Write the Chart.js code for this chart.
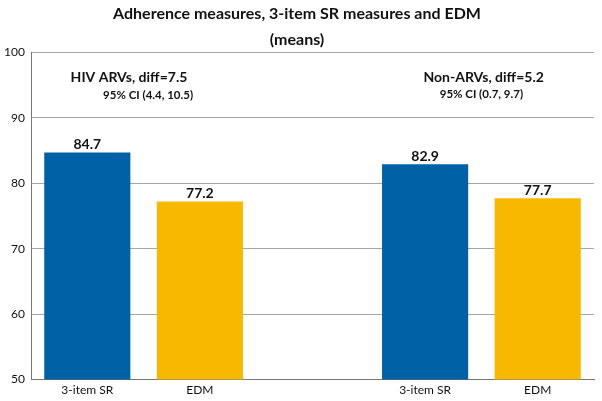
<!DOCTYPE html>
<html>
<head>
<meta charset="utf-8">
<script src="https://cdn.jsdelivr.net/npm/chart.js@4/dist/chart.umd.min.js"></script>
<style>
  html, body { margin: 0; padding: 0; background: #fff; }
  #wrap { width: 602px; height: 401px; }
</style>
</head>
<body>
<div id="wrap"><canvas id="adhChart"></canvas></div>
<script>
// bar categories (empty slot in the middle separates the two groups)
const categories = ['3-item SR', 'EDM', '', '3-item SR', 'EDM'];
const meanValues = [84.7, 77.2, null, 82.9, 77.7];
const barColors = ['#0061A7', '#F9B800', '#ffffff', '#0061A7', '#F9B800'];
const yTicks = [50, 60, 70, 80, 90, 100];

// group notes: [category position, value position, text, bold?, size]
const groupNotes = [
    [0.37, 96.2, 'HIV ARVs, diff=7.5', true, 14],
    [0.54, 93.4, '95% CI (4.4, 10.5)', true, 11.5],
    [3.52, 96.1, 'Non-ARVs, diff=5.2', true, 14],
    [3.5, 93.5, '95% CI (0.7, 9.7)', true, 11.5]
];

const FONT = 'Lato, "Open Sans", sans-serif';

const notesPlugin = {
    id: 'notes',
    afterDatasetsDraw(chart) {
        const ctx = chart.ctx;
        const xs = chart.scales.x, ys = chart.scales.y;
        ctx.save();
        ctx.textAlign = 'center';
        ctx.textBaseline = 'middle';
        ctx.fillStyle = '#111';
        groupNotes.forEach(n => {
            ctx.font = (n[3] ? 'bold ' : '') + n[4] + 'px ' + FONT;
            ctx.fillText(n[2], xs.getPixelForValue(n[0]), ys.getPixelForValue(n[1]));
        });
        // value labels above bars
        ctx.font = 'bold 14px ' + FONT;
        ctx.textBaseline = 'bottom';
        const meta = chart.getDatasetMeta(0);
        meta.data.forEach((bar, i) => {
            if (meanValues[i] == null) return;
            ctx.fillText(meanValues[i].toFixed(1), bar.x, bar.y - 1);
        });
        ctx.restore();
    }
};

const ctx = document.getElementById('adhChart').getContext('2d');
new Chart(ctx, {
    type: 'bar',
    data: {
        labels: categories,
        datasets: [{
            data: meanValues,
            backgroundColor: barColors,
            categoryPercentage: 1,
            barPercentage: 0.765
        }]
    },
    options: {
        responsive: true,
        maintainAspectRatio: false,
        animation: false,
        layout: { padding: { left: 0, right: 8, top: 0, bottom: 1 } },
        plugins: {
            legend: { display: false },
            tooltip: { enabled: false },
            title: {
                display: true,
                text: ['Adherence measures, 3-item SR measures and EDM', '(means)'],
                color: '#111',
                font: { family: FONT, size: 16, weight: 'bold', lineHeight: 1.6 },
                padding: { top: 1, bottom: 0 }
            }
        },
        scales: {
            x: {
                grid: { display: false, drawTicks: false },
                border: { display: true, color: '#777', width: 1 },
                ticks: { color: '#111', font: { family: FONT, size: 12 }, padding: 3 }
            },
            y: {
                min: 50,
                max: 100,
                afterBuildTicks(scale) { scale.ticks = yTicks.map(v => ({ value: v })); },
                afterFit(scale) { scale.width = 31; },
                grid: { color: '#a6a6a6', drawTicks: false },
                border: { display: true, color: '#777', width: 1 },
                ticks: { color: '#111', font: { family: FONT, size: 12 }, padding: 6 }
            }
        }
    },
    plugins: [notesPlugin]
});
</script>
</body>
</html>
